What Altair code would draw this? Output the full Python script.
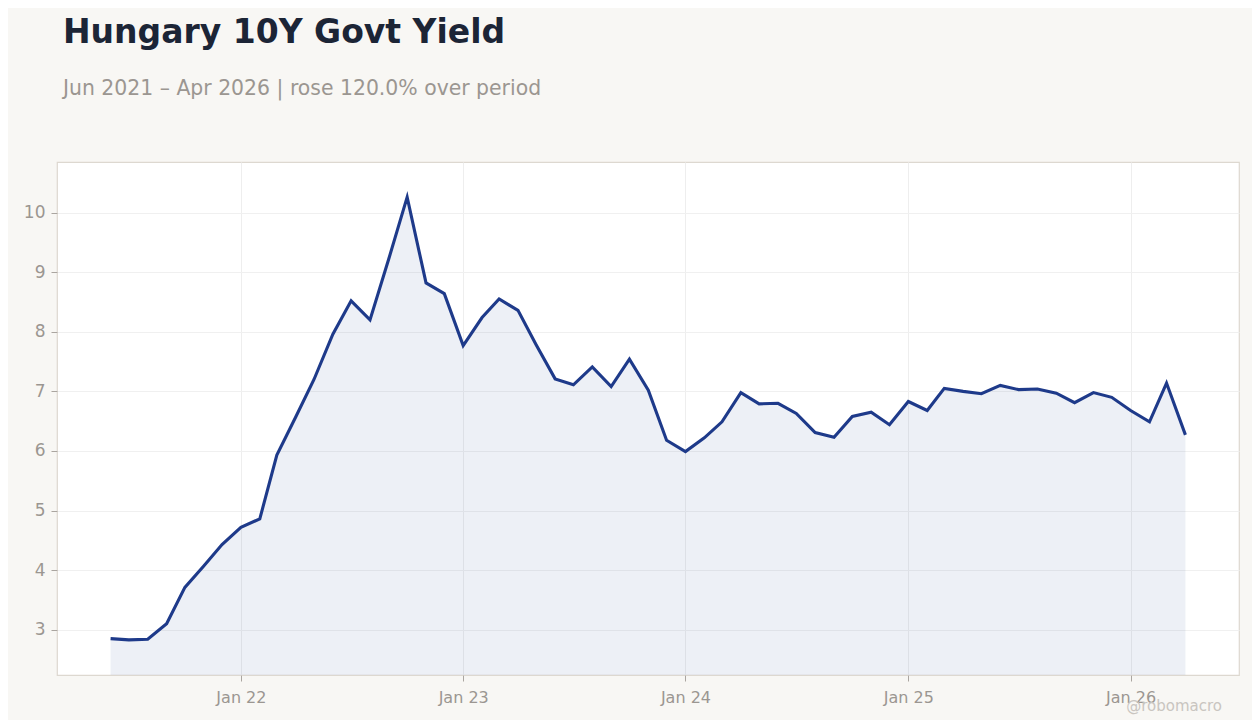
import pandas as pd
import altair as alt

# monthly Hungary 10Y govt bond yield, Jun 2021 - Apr 2026
start_month = "2021-06-01"
yields = [
    2.85, 2.83, 2.84, 3.10, 3.71, 4.07, 4.43,  # 2021 Jun-Dec
    4.72, 4.86, 5.93, 6.57, 7.20, 7.96, 8.52, 8.20, 9.23, 10.26, 8.82, 8.64,  # 2022
    7.77, 8.24, 8.55, 8.36, 7.78, 7.21, 7.11, 7.41, 7.08, 7.54, 7.02, 6.18,  # 2023
    5.99, 6.22, 6.49, 6.98, 6.79, 6.80, 6.63, 6.31, 6.23, 6.58, 6.65, 6.44,  # 2024
    6.83, 6.68, 7.05, 7.00, 6.96, 7.10, 7.03, 7.04, 6.97, 6.81, 6.98, 6.90,  # 2025
    6.68, 6.49, 7.14, 6.27,  # 2026 Jan-Apr
]
year_ticks = ["2022-01-01", "2023-01-01", "2024-01-01", "2025-01-01", "2026-01-01"]
y_ticks = [3, 4, 5, 6, 7, 8, 9, 10]

dates = pd.date_range(start_month, periods=len(yields), freq="MS")
df = pd.DataFrame({"date": dates, "yield": yields})

pct = (yields[-1] / yields[0] - 1) * 100
subtitle = f"Jun 2021 \u2013 Apr 2026 | rose {pct:.1f}% over period"

W, H = 1182, 513
LINE = "#1e3a8a"
GRAY = "#9b9691"

x_enc = alt.X("date:T").scale(domain=["2021-03-05", "2026-06-28"]).axis(
    values=[pd.Timestamp(d).isoformat() for d in year_ticks],
    format="%b %y",
    title=None,
    labelFontSize=16,
    labelColor=GRAY,
    labelPadding=8,
    tickColor="#aaa5a0",
    tickSize=6,
    domain=False,
    gridColor="#eeeeee",
)
y_enc = alt.Y("yield:Q").scale(domain=[2.24, 10.85], zero=False, nice=False).axis(
    values=y_ticks,
    format="d",
    title=None,
    labelFontSize=17,
    labelColor=GRAY,
    labelPadding=6,
    tickColor="#aaa5a0",
    tickSize=6,
    domain=False,
    gridColor="#f0f0f0",
)

base = alt.Chart(df)
area = base.mark_area(color=LINE, opacity=0.08, clip=True).encode(x=x_enc, y=y_enc)
line = base.mark_line(color=LINE, strokeWidth=3.1).encode(x="date:T", y="yield:Q")
mark = (
    alt.Chart(pd.DataFrame({"t": ["@robomacro"]}))
    .mark_text(align="right", baseline="alphabetic", fontSize=15, color="#c9c5c0",
               font="DejaVu Sans")
    .encode(text="t:N", x=alt.value(W - 17), y=alt.value(H + 36))
)

chart = (
    (area + line + mark)
    .properties(
        width=W,
        height=H,
        autosize=alt.AutoSizeParams(type="none"),
        padding={"left": 49, "top": 154, "right": 13, "bottom": 45},
        background="#f8f7f4",
        view=alt.ViewBackground(fill="white", stroke="#ddd8d0", strokeWidth=1.2),
        title=alt.TitleParams(
            "Hungary 10Y Govt Yield",
            subtitle=subtitle,
            anchor="start",
            frame="group",
            dx=6,
            offset=63,
            font="DejaVu Sans",
            fontSize=33,
            fontWeight="bold",
            color="#1c2536",
            subtitleFont="DejaVu Sans",
            subtitleFontSize=20.4,
            subtitleColor=GRAY,
            subtitlePadding=29,
        ),
    )
    .configure_view(fill="white", stroke="#ddd8d0", strokeWidth=1.2)
    .configure(font="DejaVu Sans")
)

chart.save("out.html", embed_options={"renderer": "svg", "actions": False})
